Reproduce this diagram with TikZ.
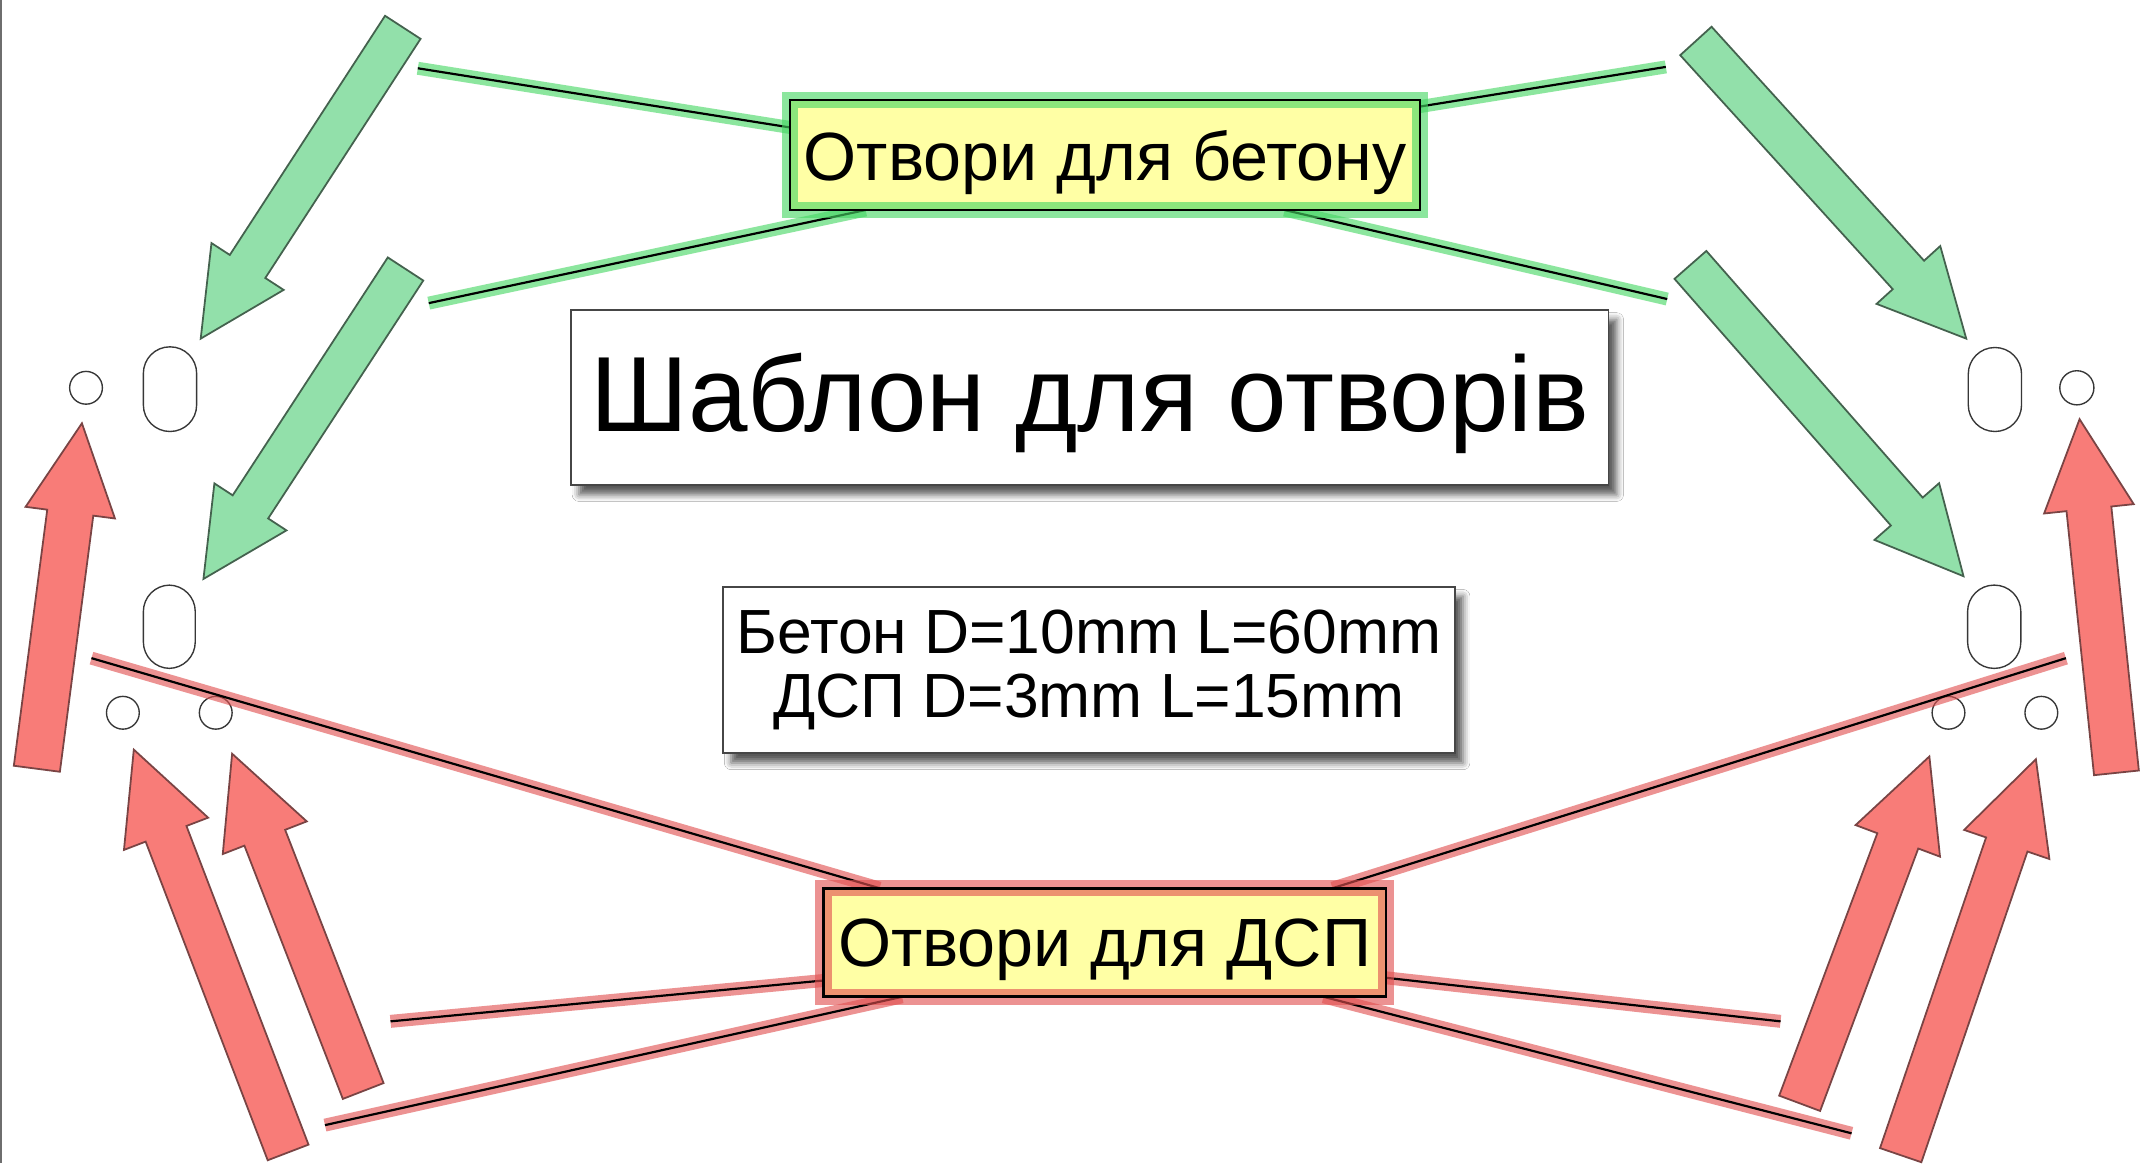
\documentclass[tikz,border=0pt]{standalone}
\usepackage{fontspec}
\setmainfont{Liberation Sans}
\usetikzlibrary{calc,shadows.blur}
\pgfdeclarelayer{back}
\pgfdeclarelayer{bg}
\pgfsetlayers{back,bg,main}

\definecolor{gfill}{RGB}{146,224,170}
\definecolor{gedge}{RGB}{68,98,78}
\definecolor{rfill}{RGB}{248,124,120}
\definecolor{redge}{RGB}{122,68,68}
\definecolor{gglow}{RGB}{70,215,100}
\definecolor{rglow}{RGB}{225,80,80}
\definecolor{lblfill}{RGB}{255,255,165}
\definecolor{holec}{RGB}{55,55,55}
\definecolor{boxedge}{RGB}{70,70,70}
\definecolor{leftedge}{RGB}{110,110,110}

% block arrow: style, tail, tip, shaft half-width, head half-width, head length
\newcommand\blockarr[6]{%
  \coordinate (ba-h) at ($(#3)!#6!(#2)$);
  \draw[#1] ($(#2)!#4!90:(#3)$) -- ($(ba-h)!#4!-90:(#2)$) -- ($(ba-h)!#5!-90:(#2)$)
    -- (#3) -- ($(ba-h)!#5!90:(#2)$) -- ($(ba-h)!#4!90:(#2)$) -- ($(#2)!#4!-90:(#3)$) -- cycle;}

\begin{document}
\begin{tikzpicture}[x=1pt,y=-1pt,
  garrow/.style={fill=gfill,draw=gedge,line width=1.3pt,line join=miter},
  rarrow/.style={fill=rfill,draw=redge,line width=1.3pt,line join=miter},
  hole/.style={draw=holec,line width=1pt},
  gconn/.style={preaction={draw=gglow,line width=9.5pt,draw opacity=0.62},draw=black,line width=1.6pt},
  rconn/.style={preaction={draw=rglow,line width=9.5pt,draw opacity=0.62},draw=black,line width=1.6pt},
  glowbox/.style={fill=lblfill,draw=#1,draw opacity=0.62,line width=12pt,
    postaction={draw=black,draw opacity=1,line width=2pt},
    inner sep=0pt,outer sep=0pt,font=\fontsize{50}{60}\selectfont},
  plainbox/.style={fill=white,draw=boxedge,line width=1.3pt,inner sep=0pt,outer sep=0pt,
    blur shadow={shadow xshift=6pt,shadow yshift=-7pt,shadow blur radius=5pt,shadow opacity=65}}
]
\useasboundingbox (0,0) rectangle (1568,852);

% ---------- boxes ----------
\node[glowbox=gglow,minimum width=461.4pt,minimum height=80.6pt,text height=40pt,text depth=2.4pt]
  (lb) at (809.3,113.5) {Отвори для бетону};
\node[glowbox=rglow,minimum width=412pt,minimum height=79.5pt,text height=38pt,text depth=2.5pt]
  (db) at (809,690.25) {Отвори для ДСП};
\node[plainbox,minimum width=760pt,minimum height=128.2pt,text height=58pt,text depth=7.8pt,
  font=\fontsize{78.3}{78.3}\selectfont] (title) at (798,291.1) {Шаблон для отворів};
\node[plainbox,minimum width=536pt,minimum height=122pt,align=center,
  font=\fontsize{45.7}{47.5}\selectfont] (info) at (797.5,490.7) {\raisebox{-3pt}{Бетон D=10mm L=60mm}\\\raisebox{-2pt}{ДСП D=3mm L=15mm}};

% ---------- arrows and holes ----------
\begin{pgfonlayer}{back}
  \fill[white] (0,0) rectangle (1568,852);
  \draw[leftedge,line width=1.6pt] (1,0) -- (1,852);
  \coordinate (g1t) at (295,20);   \coordinate (g1h) at (147,248);
  \coordinate (g2t) at (297,197);  \coordinate (g2h) at (149,424);
  \coordinate (g3t) at (1242,30);  \coordinate (g3h) at (1440,248);
  \coordinate (g4t) at (1238,194); \coordinate (g4h) at (1438,422);
  \blockarr{garrow}{g1t}{g1h}{15.5pt}{31.5pt}{63pt}
  \blockarr{garrow}{g2t}{g2h}{15.5pt}{31.5pt}{63pt}
  \blockarr{garrow}{g3t}{g3h}{15.5pt}{31.5pt}{63pt}
  \blockarr{garrow}{g4t}{g4h}{15.5pt}{31.5pt}{63pt}

  \coordinate (r1t) at (27,563);   \coordinate (r1h) at (60,310);
  \coordinate (r2t) at (211,844);  \coordinate (r2h) at (98,549);
  \coordinate (r3t) at (266,799);  \coordinate (r3h) at (170,552);
  \coordinate (r4t) at (1550,566); \coordinate (r4h) at (1523,307);
  \coordinate (r5t) at (1318,808); \coordinate (r5h) at (1413,554);
  \coordinate (r6t) at (1392,846); \coordinate (r6h) at (1491,556);
  \blockarr{rarrow}{r1t}{r1h}{17pt}{33pt}{66pt}
  \blockarr{rarrow}{r2t}{r2h}{16pt}{33pt}{66pt}
  \blockarr{rarrow}{r3t}{r3h}{16pt}{33pt}{66pt}
  \blockarr{rarrow}{r4t}{r4h}{16.5pt}{33pt}{66pt}
  \blockarr{rarrow}{r5t}{r5h}{16pt}{33pt}{66pt}
  \blockarr{rarrow}{r6t}{r6h}{16pt}{33pt}{66pt}

  % holes
  \draw[hole] (63,284) circle (12);
  \draw[hole,rounded corners=19.4pt] (105,254) rectangle (144,316);
  \draw[hole,rounded corners=19.4pt] (105,428.5) rectangle (143,489.5);
  \draw[hole] (90,522) circle (12);
  \draw[hole] (158,522) circle (12);
  \draw[hole] (1521,284) circle (12.5);
  \draw[hole,rounded corners=19.4pt] (1441.5,254.5) rectangle (1480.5,316);
  \draw[hole,rounded corners=19.4pt] (1441,428.5) rectangle (1480,489.5);
  \draw[hole] (1427,522) circle (12);
  \draw[hole] (1495,522) circle (12);
\end{pgfonlayer}

% ---------- connectors ----------
\begin{pgfonlayer}{bg}
  \coordinate (gA) at (306,50);   \coordinate (gB) at (314,222);
  \coordinate (gC) at (1220,49);  \coordinate (gD) at (1221,219);
  \draw[gconn] (gA) -- ($(lb.north west)!0.25!(lb.south west)$);
  \draw[gconn] (gB) -- ($(lb.south west)!0.12!(lb.south east)$);
  \draw[gconn] (gC) -- ($(lb.north east)!0.06!(lb.south east)$);
  \draw[gconn] (gD) -- ($(lb.south west)!0.785!(lb.south east)$);

  \coordinate (rA) at (67,482);   \coordinate (rB) at (286,748);
  \coordinate (rC) at (238,824);  \coordinate (rD) at (1513,482);
  \coordinate (rE) at (1304,748); \coordinate (rF) at (1356,830);
  \draw[rconn] (rA) -- ($(db.north west)!0.1!(db.north east)$);
  \draw[rconn] (rB) -- ($(db.north west)!0.85!(db.south west)$);
  \draw[rconn] (rC) -- ($(db.south west)!0.14!(db.south east)$);
  \draw[rconn] (rD) -- ($(db.north west)!0.905!(db.north east)$);
  \draw[rconn] (rE) -- ($(db.north east)!0.825!(db.south east)$);
  \draw[rconn] (rF) -- ($(db.south west)!0.889!(db.south east)$);
\end{pgfonlayer}
\end{tikzpicture}
\end{document}
